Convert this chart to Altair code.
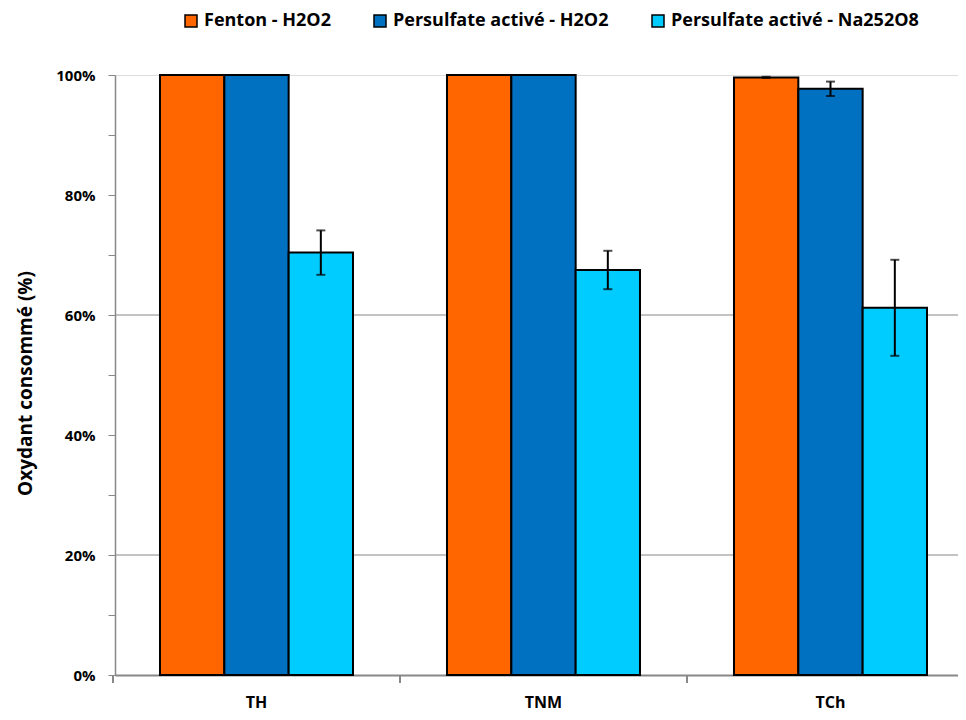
import altair as alt
import pandas as pd

categories = ["TH", "TNM", "TCh"]
series = ["Fenton - H2O2", "Persulfate activé - H2O2", "Persulfate activé - Na252O8"]
colors = ["#FF6600", "#0070C0", "#00CCFF"]
values = {
    "Fenton - H2O2": [100.0, 100.0, 99.6],
    "Persulfate activé - H2O2": [100.0, 100.0, 97.7],
    "Persulfate activé - Na252O8": [70.4, 67.5, 61.2],
}
errors = {
    "Fenton - H2O2": [0.0, 0.0, 0.1],
    "Persulfate activé - H2O2": [0.0, 0.0, 1.2],
    "Persulfate activé - Na252O8": [3.7, 3.2, 8.0],
}
grid_values = [20, 60]

rows = []
for s in series:
    for i, c in enumerate(categories):
        v = values[s][i]
        e = errors[s][i]
        rows.append({"cat": c, "serie": s, "val": v, "lo": v - e, "hi": v + e, "err": e})
df = pd.DataFrame(rows)
grid_df = pd.DataFrame({"g": grid_values})
cat_df = pd.DataFrame({"cat": categories})

FONT = "Open Sans"
W, H = 843, 600
P_INNER = 0.3275
P_OUTER = 0.1324
STEP = W / (len(categories) - P_INNER + 2 * P_OUTER)

xscale = alt.Scale(paddingInner=P_INNER, paddingOuter=P_OUTER, align=0.592)
x_enc = alt.X(
    "cat:N",
    sort=categories,
    scale=xscale,
    axis=alt.Axis(
        title=None,
        labelFont=FONT,
        labelFontWeight="bold",
        labelFontSize=16,
        labelColor="black",
        labelAngle=0,
        labelPadding=19,
        ticks=False,
        domainColor="#888888",
        domainWidth=2,
    ),
)
xoff = alt.XOffset("serie:N", sort=series, scale=alt.Scale(paddingInner=0, paddingOuter=0))
yscale = alt.Scale(domain=[0, 100], nice=False)
color_enc = alt.Color(
    "serie:N",
    sort=series,
    scale=alt.Scale(domain=series, range=colors),
    legend=alt.Legend(
        title=None,
        orient="none",
        direction="horizontal",
        legendX=67,
        legendY=-63,
        symbolType="square",
        symbolSize=144,
        symbolStrokeColor="black",
        symbolStrokeWidth=1.5,
        labelFont=FONT,
        labelFontWeight="bold",
        labelFontSize=18,
        labelColor="black",
        labelOffset=4,
        labelLimit=0,
        columnPadding=40,
    ),
)

grid = alt.Chart(grid_df).mark_rule(color="#888888", strokeWidth=1).encode(
    y=alt.Y("g:Q", scale=yscale)
)

# x-axis ticks at the category boundaries
xticks = alt.Chart(cat_df).mark_rule(
    color="#888888", strokeWidth=2, xOffset=-STEP * P_INNER / 2
).encode(
    x=alt.X("cat:N", sort=categories, scale=xscale, bandPosition=0),
    y=alt.value(H),
    y2=alt.value(H + 8),
)

bars = alt.Chart(df).mark_bar(stroke="black", strokeWidth=2).encode(
    x=x_enc,
    xOffset=xoff,
    y=alt.Y(
        "val:Q",
        scale=yscale,
        axis=alt.Axis(
            title="Oxydant consommé (%)",
            titleFont=FONT,
            titleFontWeight="bold",
            titleFontSize=19,
            titleColor="black",
            titleX=-80,
            titleY=H / 2 + 8,
            values=list(range(0, 101, 10)),
            labelExpr="datum.value % 20 == 0 ? datum.value + '%' : ''",
            labelFont=FONT,
            labelFontWeight="bold",
            labelFontSize=15,
            labelColor="black",
            labelPadding=13,
            tickSize=7,
            tickColor="#888888",
            domainColor="#888888",
            domainWidth=1.5,
            grid=False,
        ),
    ),
    color=color_enc,
)

err_df = df[df["err"] > 0]
err_rule = alt.Chart(err_df).mark_rule(color="black", strokeWidth=2).encode(
    x=alt.X("cat:N", sort=categories, scale=xscale),
    xOffset=xoff,
    y=alt.Y("lo:Q", scale=yscale),
    y2="hi:Q",
)
cap_lo = alt.Chart(err_df).mark_tick(color="black", thickness=2, size=9).encode(
    x=alt.X("cat:N", sort=categories, scale=xscale),
    xOffset=xoff,
    y=alt.Y("lo:Q", scale=yscale),
)
cap_hi = alt.Chart(err_df).mark_tick(color="black", thickness=2, size=9).encode(
    x=alt.X("cat:N", sort=categories, scale=xscale),
    xOffset=xoff,
    y=alt.Y("hi:Q", scale=yscale),
)

chart = (
    alt.layer(grid, bars, xticks, err_rule, cap_lo, cap_hi)
    .properties(
        width=W,
        height=H,
        autosize=alt.AutoSizeParams(type="none"),
        padding={"left": 107, "top": 67, "right": 0, "bottom": 37},
    )
    .configure_view(stroke=None)
    .configure(background="white")
)

chart.save("out.html", embed_options={"renderer": "svg", "actions": False})
